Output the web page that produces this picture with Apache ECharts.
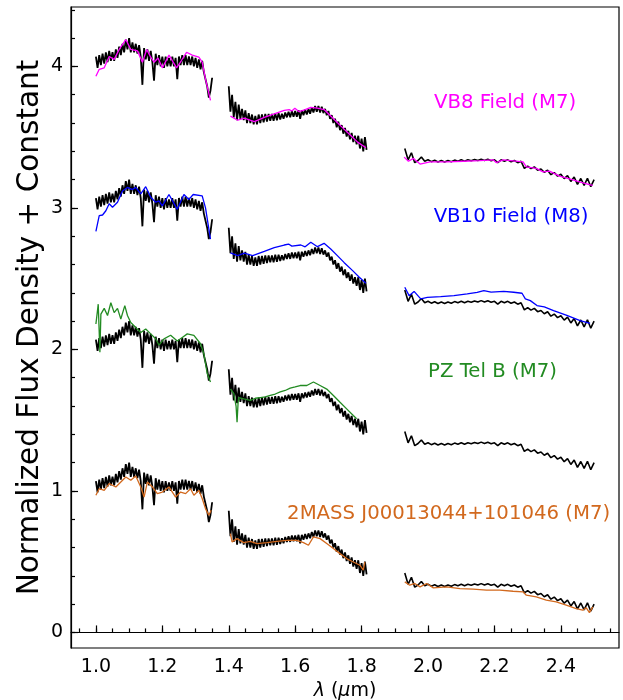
<!DOCTYPE html>
<html>
<head>
<meta charset="utf-8">
<script src="https://cdn.jsdelivr.net/npm/echarts@6/dist/echarts.min.js"></script>
<style>
  html, body { margin: 0; padding: 0; background: #fff; }
  #main { width: 623px; height: 700px; }
</style>
</head>
<body>
<div id="main"></div>
<script>
// observed object, normalized flux (bands sampled on a regular grid)
const blackJStart = 1.000, blackJStep = 0.005;
const blackJ = [
  1.07, 0.99, 1.08, 1.01, 1.09, 1.02, 1.10, 1.03, 1.11, 1.04,
  1.10, 1.04, 1.12, 1.06, 1.14, 1.08, 1.16, 1.10, 1.19, 1.12,
  1.20, 1.10, 1.17, 1.10, 1.16, 1.09, 1.15, 1.07, 0.87, 1.13,
  1.05, 1.12, 1.04, 1.11, 1.03, 0.90, 1.09, 1.01, 1.08, 1.00,
  1.07, 0.99, 1.07, 1.00, 1.06, 1.00, 1.07, 1.00, 1.06, 0.91,
  1.07, 1.01, 1.08, 1.01, 1.08, 1.01, 1.07, 1.01, 1.07, 1.00,
  1.06, 0.99, 1.05, 0.98, 1.04, 0.96, 0.96, 0.86, 0.78, 0.83,
  0.92
];
const blackHStart = 1.400, blackHStep = 0.005;
const blackH = [
  0.86, 0.68, 0.80, 0.64, 0.75, 0.62, 0.73, 0.63, 0.70, 0.62,
  0.69, 0.60, 0.67, 0.60, 0.66, 0.59, 0.65, 0.59, 0.66, 0.60,
  0.66, 0.605, 0.665, 0.61, 0.665, 0.615, 0.665, 0.615, 0.67, 0.62,
  0.67, 0.625, 0.665, 0.63, 0.675, 0.64, 0.68, 0.64, 0.685, 0.645,
  0.685, 0.645, 0.69, 0.63, 0.69, 0.655, 0.695, 0.66, 0.70, 0.665,
  0.71, 0.675, 0.72, 0.68, 0.72, 0.675, 0.715, 0.67, 0.70, 0.655,
  0.685, 0.63, 0.655, 0.60, 0.63, 0.57, 0.61, 0.55, 0.585, 0.525,
  0.565, 0.505, 0.545, 0.485, 0.53, 0.465, 0.51, 0.45, 0.51, 0.42,
  0.49, 0.40, 0.50, 0.41
];
const blackKStart = 1.93, blackKStep = 0.01;
const blackK = [
  0.42, 0.34, 0.39, 0.32, 0.335, 0.36, 0.33, 0.34, 0.327, 0.337,
  0.325, 0.335, 0.325, 0.335, 0.327, 0.338, 0.33, 0.34, 0.33, 0.34,
  0.334, 0.343, 0.335, 0.345, 0.335, 0.344, 0.334, 0.34, 0.32, 0.34,
  0.33, 0.34, 0.326, 0.335, 0.32, 0.33, 0.28, 0.296, 0.278, 0.29,
  0.267, 0.275, 0.252, 0.266, 0.235, 0.25, 0.225, 0.238, 0.207, 0.228,
  0.187, 0.218, 0.167, 0.208, 0.16, 0.21, 0.15, 0.20
];

// constant added to each copy, top to bottom
const offsets = [3, 2, 1, 0];

// comparison templates [wavelength, flux]
const vb8J = [[1.00,0.93],[1.01,0.98],[1.025,0.99],[1.04,1.07],[1.055,1.05],[1.07,1.12],[1.09,1.19],[1.105,1.12],[1.125,1.11],[1.14,1.03],[1.153,1.12],[1.165,1.065],[1.175,1.03],[1.187,1.06],[1.20,0.99],[1.22,1.08],[1.243,0.99],[1.257,1.04],[1.273,1.10],[1.29,1.08],[1.31,1.065],[1.32,1.03],[1.33,0.91],[1.345,0.76]];
const vb8H = [[1.405,0.649],[1.427,0.62],[1.447,0.635],[1.477,0.61],[1.507,0.64],[1.537,0.665],[1.567,0.69],[1.582,0.695],[1.59,0.685],[1.599,0.705],[1.612,0.68],[1.63,0.695],[1.647,0.71],[1.667,0.705],[1.687,0.695],[1.707,0.65],[1.737,0.58],[1.768,0.51],[1.788,0.465],[1.813,0.425]];
const vb8K = [[1.928,0.359],[1.941,0.33],[1.956,0.35],[1.976,0.31],[2.006,0.325],[2.056,0.325],[2.106,0.33],[2.156,0.335],[2.196,0.34],[2.206,0.32],[2.226,0.34],[2.286,0.325],[2.296,0.29],[2.326,0.28],[2.346,0.255],[2.366,0.26],[2.396,0.225],[2.426,0.205],[2.456,0.185],[2.486,0.165],[2.496,0.16]];

const vb10J = [[1.00,0.834],[1.01,0.945],[1.02,0.95],[1.03,0.98],[1.04,1.03],[1.05,1.005],[1.065,1.04],[1.08,1.12],[1.095,1.145],[1.11,1.13],[1.12,1.145],[1.135,1.10],[1.15,1.15],[1.165,1.075],[1.18,1.04],[1.19,1.05],[1.20,1.015],[1.22,1.095],[1.245,0.99],[1.265,1.095],[1.28,1.06],[1.293,1.095],[1.32,1.085],[1.33,1.00],[1.345,0.78]];
const vb10H = [[1.405,0.682],[1.427,0.663],[1.447,0.68],[1.472,0.663],[1.507,0.693],[1.537,0.72],[1.567,0.738],[1.58,0.745],[1.59,0.73],[1.617,0.738],[1.63,0.725],[1.647,0.757],[1.667,0.726],[1.687,0.75],[1.707,0.71],[1.727,0.663],[1.747,0.615],[1.773,0.557],[1.793,0.51],[1.813,0.467]];
const vb10K = [[1.93,0.439],[1.943,0.38],[1.958,0.41],[1.978,0.357],[1.998,0.368],[2.038,0.373],[2.078,0.38],[2.118,0.392],[2.148,0.404],[2.168,0.416],[2.19,0.405],[2.228,0.41],[2.258,0.404],[2.283,0.397],[2.293,0.357],[2.308,0.345],[2.328,0.31],[2.35,0.30],[2.378,0.275],[2.418,0.24],[2.458,0.204],[2.488,0.185]];

const pzJ = [[1.00,1.18],[1.007,1.32],[1.012,0.98],[1.015,1.25],[1.025,1.29],[1.035,1.24],[1.045,1.33],[1.055,1.26],[1.065,1.29],[1.075,1.215],[1.087,1.31],[1.095,1.24],[1.105,1.19],[1.12,1.155],[1.135,1.12],[1.15,1.145],[1.165,1.11],[1.18,1.075],[1.19,1.03],[1.205,1.075],[1.225,1.10],[1.245,1.06],[1.26,1.085],[1.275,1.11],[1.295,1.10],[1.315,1.04],[1.325,0.97],[1.335,0.83],[1.345,0.77]];
const pzH = [[1.405,0.72],[1.415,0.69],[1.422,0.60],[1.425,0.486],[1.428,0.62],[1.43,0.66],[1.445,0.65],[1.465,0.64],[1.48,0.655],[1.495,0.66],[1.51,0.665],[1.525,0.675],[1.54,0.685],[1.555,0.70],[1.57,0.71],[1.585,0.726],[1.60,0.735],[1.615,0.745],[1.635,0.745],[1.655,0.77],[1.675,0.745],[1.695,0.72],[1.715,0.675],[1.735,0.627],[1.755,0.58],[1.775,0.533],[1.785,0.51]];

const twoJ = [[1.00,0.969],[1.01,1.016],[1.025,1.004],[1.04,1.052],[1.06,1.028],[1.075,1.063],[1.09,1.098],[1.105,1.075],[1.12,1.105],[1.135,1.028],[1.145,0.957],[1.155,1.063],[1.17,1.028],[1.185,0.981],[1.20,0.992],[1.22,1.028],[1.24,0.957],[1.255,0.992],[1.27,0.981],[1.285,1.016],[1.295,0.969],[1.31,1.004],[1.32,0.946],[1.33,0.875],[1.34,0.828],[1.347,0.863]];
const twoH = [[1.405,0.698],[1.41,0.64],[1.425,0.663],[1.445,0.635],[1.465,0.644],[1.485,0.628],[1.515,0.635],[1.545,0.644],[1.575,0.651],[1.605,0.651],[1.625,0.635],[1.64,0.616],[1.655,0.675],[1.675,0.663],[1.695,0.628],[1.715,0.593],[1.735,0.557],[1.755,0.522],[1.775,0.498],[1.795,0.475],[1.805,0.44],[1.81,0.498]];
const twoK = [[1.93,0.357],[1.945,0.334],[1.96,0.346],[1.976,0.322],[1.996,0.346],[2.016,0.315],[2.056,0.322],[2.096,0.31],[2.136,0.306],[2.176,0.299],[2.216,0.299],[2.256,0.291],[2.286,0.287],[2.296,0.263],[2.326,0.251],[2.356,0.228],[2.386,0.216],[2.416,0.193],[2.446,0.169],[2.466,0.157],[2.476,0.175],[2.486,0.14],[2.496,0.181]];

const labelTexts = ['VB8 Field (M7)', 'VB10 Field (M8)', 'PZ Tel B (M7)', '2MASS J00013044+101046 (M7)'];

// ticks
const xTicks = [1.0, 1.2, 1.4, 1.6, 1.8, 2.0, 2.2, 2.4];
const xMinorTicks = [0.95, 1.0, 1.05, 1.1, 1.15, 1.2, 1.25, 1.3, 1.35, 1.4, 1.45, 1.5, 1.55, 1.6, 1.65, 1.7, 1.75, 1.8, 1.85, 1.9, 1.95, 2.0, 2.05, 2.1, 2.15, 2.2, 2.25, 2.3, 2.35, 2.4, 2.45, 2.5, 2.55];
const yTicks = [0, 1, 2, 3, 4];
const yMinorTicks = [0, 0.2, 0.4, 0.6, 0.8, 1, 1.2, 1.4, 1.6, 1.8, 2, 2.2, 2.4, 2.6, 2.8, 3, 3.2, 3.4, 3.6, 3.8, 4, 4.2, 4.4];

// ---- layout / style ----
const font = 'DejaVu Sans';
const xMin = 0.925, xMax = 2.575, yMin = -0.11, yMax = 4.42;
const templates = [
  { bands: [vb8J, vb8H, vb8K], color: '#ff00ff', off: 3 },
  { bands: [vb10J, vb10H, vb10K], color: '#0000ff', off: 2 },
  { bands: [pzJ, pzH], color: '#228b22', off: 1 },
  { bands: [twoJ, twoH, twoK], color: '#d2691e', off: 0 }
];
const labelAnchors = [[2.232, 3.745], [2.25, 2.94], [2.194, 1.84], [2.062, 0.835]];

function sampled(start, step, vals, off) {
  return vals.map((v, i) => [start + i * step, v + off]);
}
function shifted(pairs, off) {
  return pairs.map(p => [p[0], p[1] + off]);
}
function line(data, color, width, z) {
  return {
    type: 'line', data: data, symbol: 'none', silent: true, z: z,
    lineStyle: { color: color, width: width }, itemStyle: { color: color }
  };
}

const series = [];
offsets.forEach(off => {
  series.push(line(sampled(blackJStart, blackJStep, blackJ, off), '#000', 1.8, 2));
  series.push(line(sampled(blackHStart, blackHStep, blackH, off), '#000', 1.8, 2));
  series.push(line(sampled(blackKStart, blackKStep, blackK, off), '#000', 1.6, 2));
});
templates.forEach(t => {
  t.bands.forEach(b => series.push(line(shifted(b, t.off), t.color, 1.3, 3)));
});

const tickLine = { color: '#000', width: 1.2 };
const chart = echarts.init(document.getElementById('main'));
chart.setOption({
  animation: false,
  grid: { left: 71, top: 7, width: 548, height: 641, show: true, borderColor: '#000', borderWidth: 1.2, outerBoundsMode: 'none' },
  xAxis: [{
    type: 'value', min: xMin, max: xMax, position: 'bottom',
    axisLine: { show: true, lineStyle: tickLine },
    axisTick: { show: true, inside: true, length: 7, customValues: xTicks, lineStyle: tickLine },
    axisLabel: { customValues: xTicks, formatter: v => v.toFixed(1), color: '#000', fontSize: 19, fontFamily: font, margin: 10 },
    splitLine: { show: false },
    name: '{i|λ} ({i|μ}m)', nameLocation: 'middle', nameGap: 31,
    nameTextStyle: { color: '#000', fontSize: 19, fontFamily: font, rich: { i: { fontStyle: 'italic', fontSize: 19, fontFamily: font, color: '#000' } } }
  }, {
    type: 'value', min: xMin, max: xMax, position: 'bottom',
    axisLine: { show: false },
    axisTick: { show: true, inside: true, length: 4, customValues: xMinorTicks, lineStyle: tickLine },
    axisLabel: { show: false }, splitLine: { show: false }
  }],
  yAxis: [{
    type: 'value', min: yMin, max: yMax, position: 'left',
    axisLine: { show: true, lineStyle: tickLine },
    axisTick: { show: true, inside: true, length: 7, customValues: yTicks, lineStyle: tickLine },
    axisLabel: { customValues: yTicks, color: '#000', fontSize: 19, fontFamily: font, margin: 8 },
    splitLine: { show: false },
    name: 'Normalized Flux Density + Constant', nameLocation: 'middle', nameGap: 26, nameMoveOverlap: false,
    nameTextStyle: { color: '#000', fontSize: 29.5, fontFamily: font }
  }, {
    type: 'value', min: yMin, max: yMax, position: 'left',
    axisLine: { show: false },
    axisTick: { show: true, inside: true, length: 4, customValues: yMinorTicks, lineStyle: tickLine },
    axisLabel: { show: false }, splitLine: { show: false }
  }],
  series: series
});

// spectrum names, placed in data coordinates
chart.setOption({
  graphic: labelTexts.map((t, i) => {
    const p = chart.convertToPixel({ xAxisIndex: 0, yAxisIndex: 0 }, labelAnchors[i]);
    return {
      type: 'text', x: p[0], y: p[1], z: 10, silent: true,
      style: {
        text: t, fill: templates[i].color, font: '19.7px "DejaVu Sans"',
        align: 'center', verticalAlign: 'middle', textAlign: 'center', textVerticalAlign: 'middle'
      }
    };
  })
});
</script>
</body>
</html>
